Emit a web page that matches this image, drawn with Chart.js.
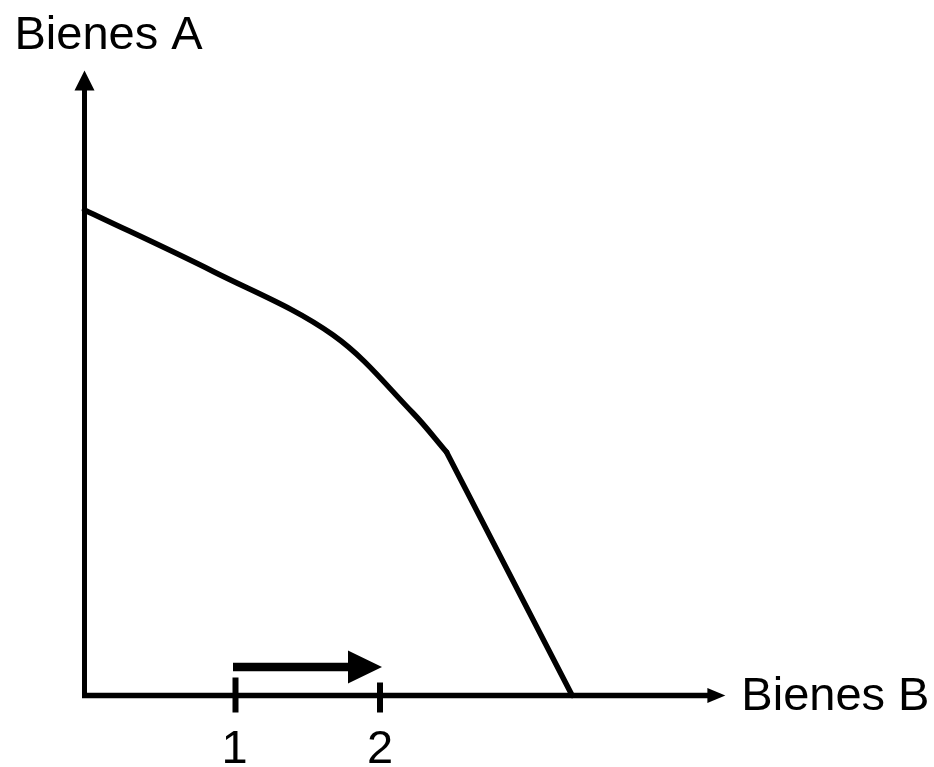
<!DOCTYPE html>
<html><head><meta charset="utf-8">
<script src="https://cdn.jsdelivr.net/npm/chart.js@4"></script>
<style>html,body{margin:0;padding:0;background:#fff}#wrap{width:934px;height:767px}</style>
</head><body><div id="wrap"><canvas id="c"></canvas></div>
<script>
// Production possibility frontier (units: Bienes B on x, Bienes A on y)
// upper, curved part of the frontier
const curveX = [-0.045, 0.846, 1.675, 2.228, 2.46];
const curveY = [4.855, 4.24, 3.605, 2.825, 2.435];
// lower, straight part of the frontier
const lineX = [2.46, 3.33];
const lineY = [2.435, 0];
const tickValues = [1, 2];
const tickLabels = ['1', '2'];
const axisTitleX = 'Bienes B';
const axisTitleY = 'Bienes A';
const shiftFrom = 1, shiftTo = 2, shiftLevel = 0.285;
const axisXStart = -0.045, axisXEnd = 4.39, axisYEnd = 6.25;

const FONT = '47px "Liberation Sans", Arial, sans-serif';

const drawPlugin = {
  id: 'ppfAxes',
  afterDatasetsDraw(chart) {
    const ctx = chart.ctx, xs = chart.scales.x, ys = chart.scales.y;
    const X = v => xs.getPixelForValue(v), Y = v => ys.getPixelForValue(v);
    ctx.save();
    ctx.fillStyle = '#000'; ctx.strokeStyle = '#000'; ctx.lineCap = 'butt';
    const ox = X(axisXStart), oy = Y(0);
    // x axis with arrow
    const xt = X(axisXEnd);
    ctx.lineWidth = 5.5;
    ctx.beginPath(); ctx.moveTo(ox - 2.5, oy); ctx.lineTo(xt - 16, oy); ctx.stroke();
    ctx.beginPath(); ctx.moveTo(xt, oy); ctx.lineTo(xt - 18, oy - 7.5); ctx.lineTo(xt - 18, oy + 7.5); ctx.closePath(); ctx.fill();
    // y axis with arrow
    const yt = Y(axisYEnd);
    ctx.lineWidth = 5;
    ctx.beginPath(); ctx.moveTo(ox, oy + 2.5); ctx.lineTo(ox, yt + 18); ctx.stroke();
    ctx.beginPath(); ctx.moveTo(ox, yt); ctx.lineTo(ox - 10, yt + 20); ctx.lineTo(ox + 10, yt + 20); ctx.closePath(); ctx.fill();
    // ticks and labels
    ctx.font = FONT; ctx.textAlign = 'center'; ctx.textBaseline = 'alphabetic';
    tickValues.forEach((v, i) => {
      const px = X(v);
      ctx.lineWidth = 6;
      ctx.beginPath(); ctx.moveTo(px, oy - (i === 0 ? 18 : 13)); ctx.lineTo(px, oy + 17); ctx.stroke();
      ctx.fillText(tickLabels[i], px - (i === 0 ? 1 : 0), oy + 67);
    });
    // shift arrow
    const sy = Y(shiftLevel), sx0 = X(shiftFrom) - 2.5, sx1 = X(shiftTo) + 2;
    ctx.lineWidth = 8.5;
    ctx.beginPath(); ctx.moveTo(sx0, sy); ctx.lineTo(sx1 - 32, sy); ctx.stroke();
    ctx.beginPath(); ctx.moveTo(sx1, sy); ctx.lineTo(sx1 - 34, sy - 16.5); ctx.lineTo(sx1 - 34, sy + 16.5); ctx.closePath(); ctx.fill();
    // axis titles
    ctx.textAlign = 'left';
    ctx.fillText(axisTitleX, xt + 16, oy + 14);
    ctx.fillText(axisTitleY, ox - 70, yt - 22);
    ctx.restore();
  }
};

const lineStyle = {
  showLine: true,
  borderColor: '#000',
  borderWidth: 5.5,
  borderJoinStyle: 'round',
  borderCapStyle: 'round',
  pointRadius: 0,
  clip: false
};

new Chart(document.getElementById('c'), {
  type: 'scatter',
  data: {
    datasets: [
      Object.assign({
        data: curveX.map((x, i) => ({ x: x, y: curveY[i] })),
        tension: 0.35
      }, lineStyle),
      Object.assign({
        data: lineX.map((x, i) => ({ x: x, y: lineY[i] })),
        tension: 0
      }, lineStyle)
    ]
  },
  options: {
    responsive: true,
    maintainAspectRatio: false,
    animation: false,
    layout: { padding: { left: 76.55, right: 192.75, top: 95.5, bottom: 71.5 } },
    scales: {
      x: { type: 'linear', min: -0.1, max: 4.5, display: false },
      y: { type: 'linear', min: 0, max: 6, display: false }
    },
    plugins: { legend: { display: false }, tooltip: { enabled: false } }
  },
  plugins: [drawPlugin]
});
</script>
</body></html>
